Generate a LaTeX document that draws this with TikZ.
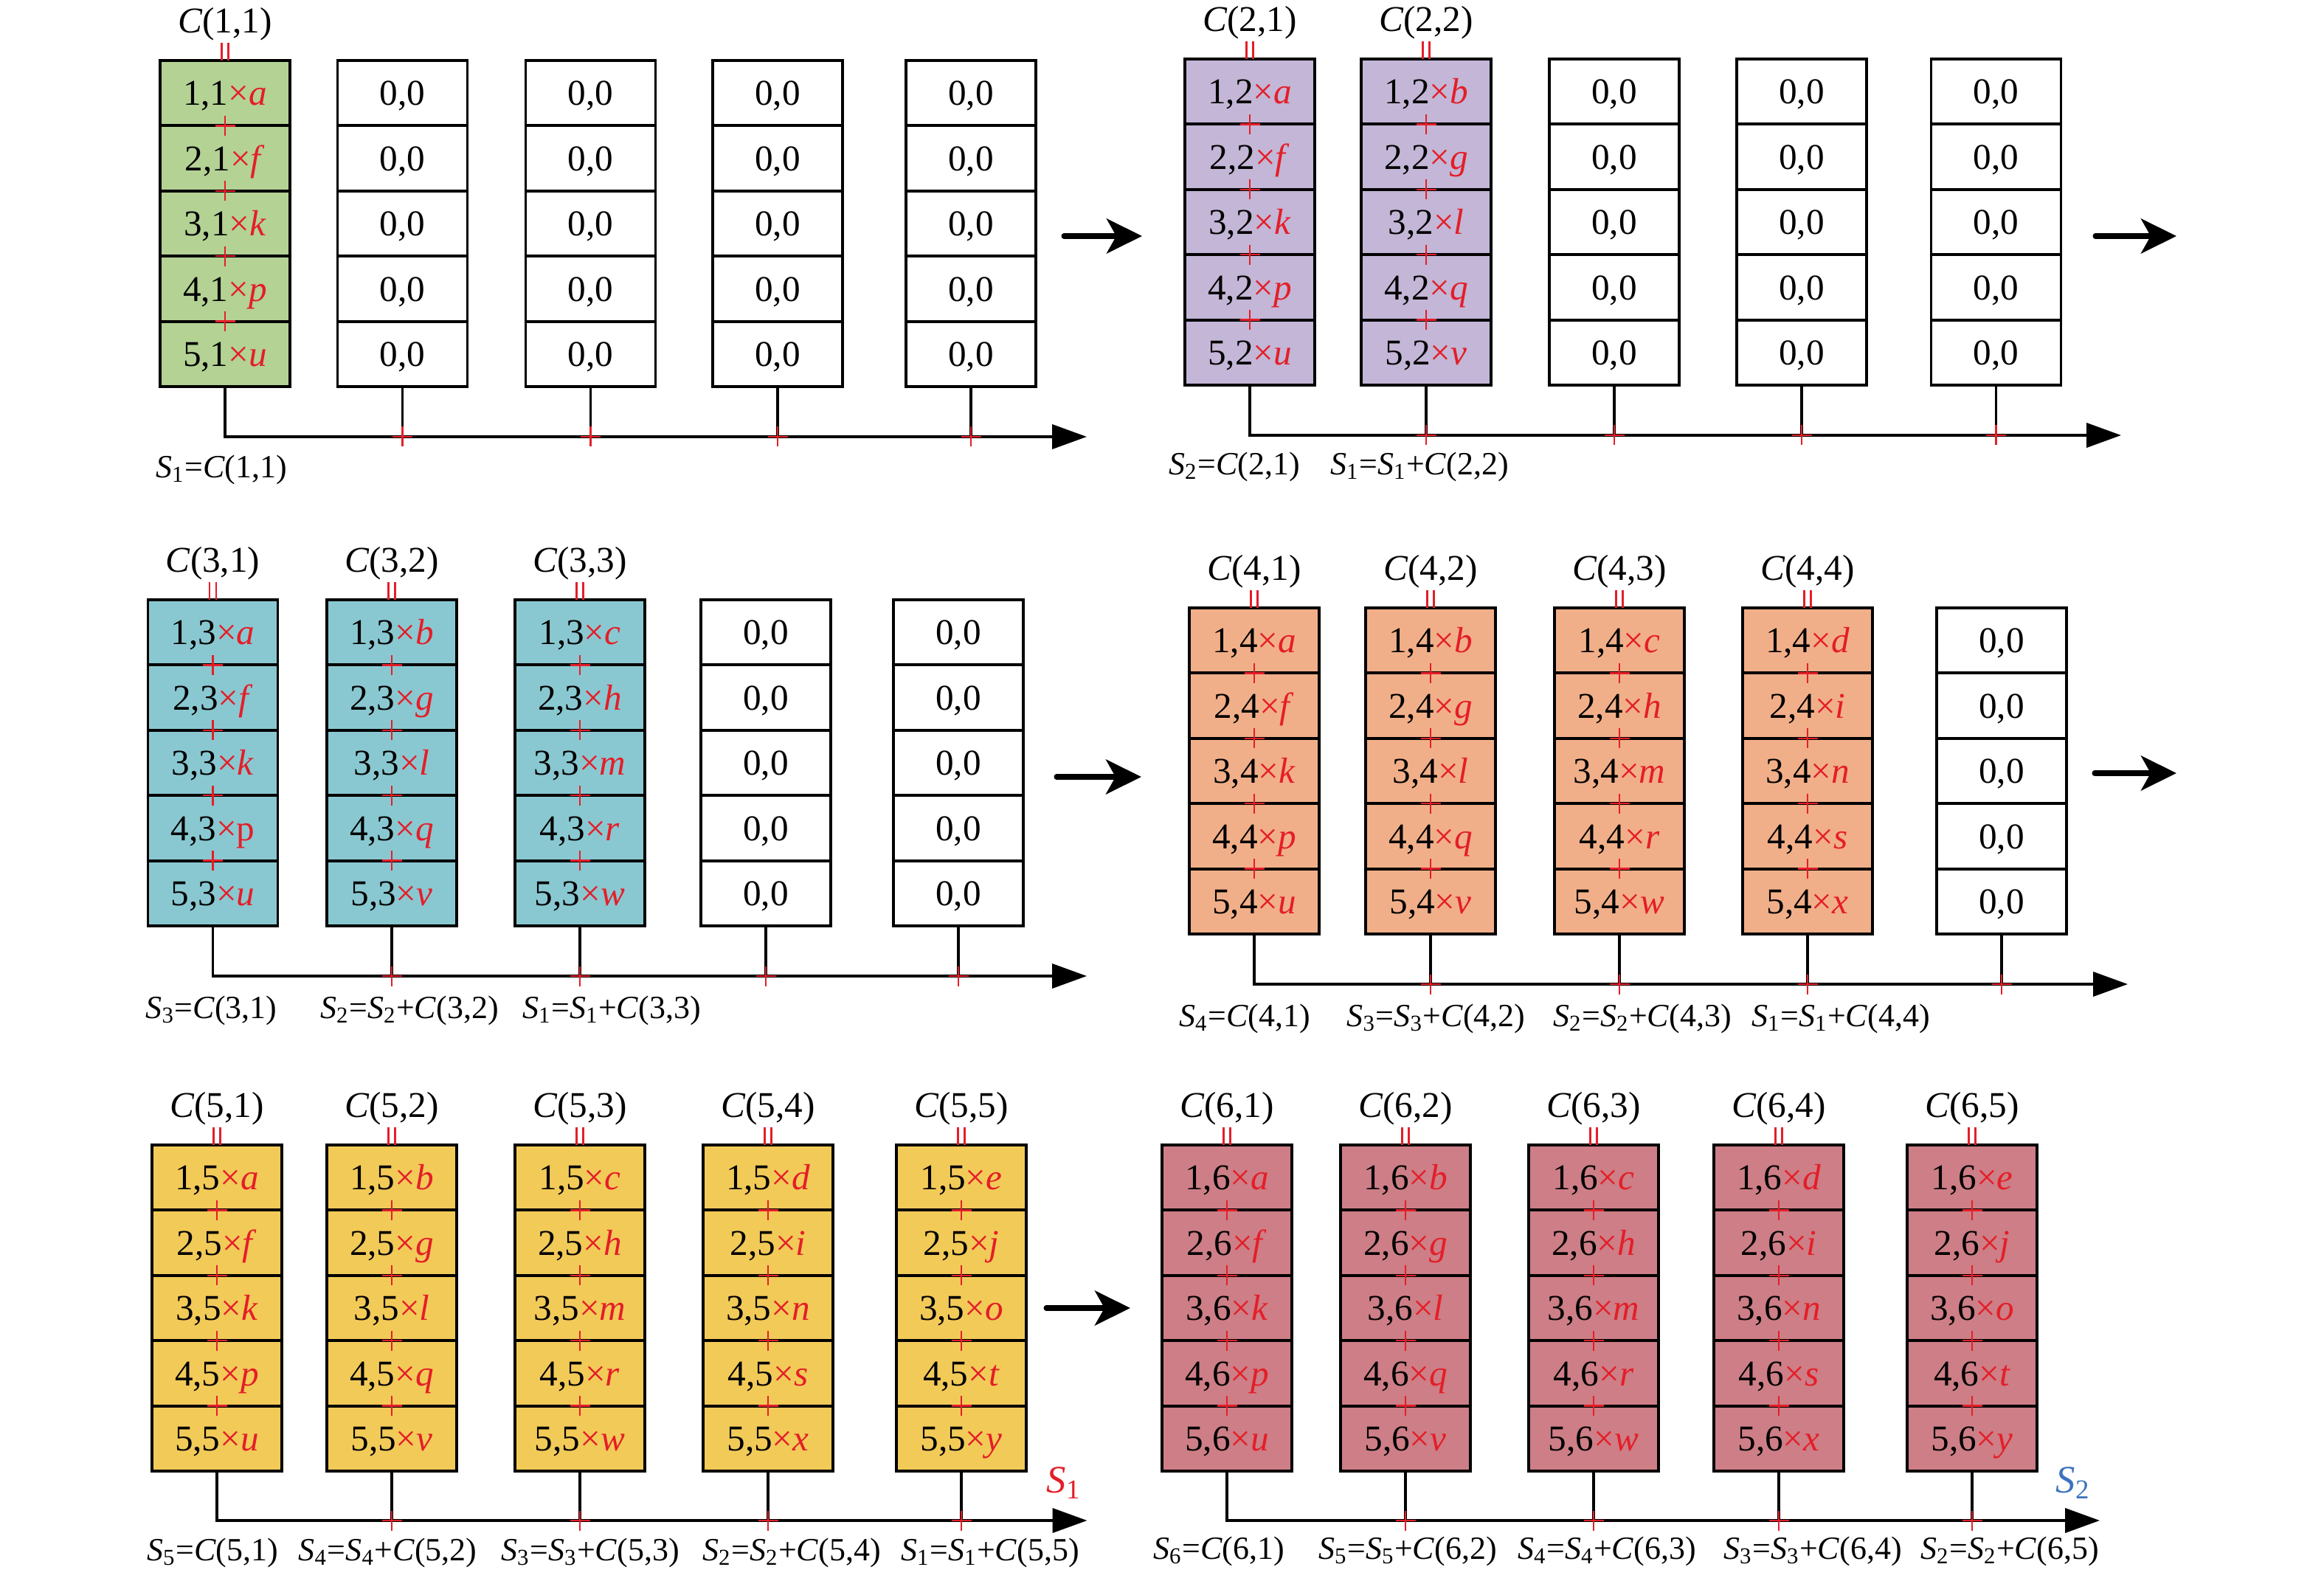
\documentclass[tikz,border=0pt]{standalone}
\usepackage{fontspec}
\setmainfont{Liberation Serif}
\usetikzlibrary{arrows.meta,positioning}

\definecolor{fill1}{RGB}{179,210,148}
\definecolor{fill2}{RGB}{195,182,214}
\definecolor{fill3}{RGB}{138,200,209}
\definecolor{fill4}{RGB}{241,175,137}
\definecolor{fill5}{RGB}{242,202,88}
\definecolor{fill6}{RGB}{205,126,134}
\definecolor{tred}{RGB}{228,30,40}
\definecolor{tblue}{RGB}{60,115,190}

\tikzset{
  cellbox/.style={draw, line width=1.1pt, minimum width=1.76cm, minimum height=0.884cm,
    inner sep=0pt, outer sep=0pt, text height=9.5pt, text depth=0pt,
    font=\fontsize{14}{16}\selectfont},
  clab/.style={inner sep=0pt, font=\fontsize{14}{16}\selectfont},
  slab/.style={inner sep=0pt, font=\fontsize{12.5}{14}\selectfont},
  redline/.style={draw=tred, line width=0.7pt},
  dropline/.style={line width=0.9pt},
  axisline/.style={line width=1.1pt, -{Triangle[length=4.7mm,width=3.3mm]}},
  bigarrow/.style={line width=2pt, line cap=round, -{Stealth[length=4.8mm,width=4.7mm,inset=1.3mm]}},
  plusmark/.pic={\draw[redline] (-1.35mm,0) -- (1.35mm,0) (0,-1.35mm) -- (0,1.35mm);}
}

\newcommand{\lettr}[1]{\ifcase#1\or a\or b\or c\or d\or e\or f\or g\or h\or i\or j\or k\or l\or m\or n\or o\or p\or q\or r\or s\or t\or u\or v\or w\or x\or y\fi}

% cell text: panel, row, column
\newcommand{\multtext}[3]{%
  \pgfmathtruncatemacro\idx{(#2-1)*5+#3}%
  #2,#1\textcolor{tred}{×\ifnum\idx=16 \ifnum#1=3 p\else\textit{p}\fi\else\textit{\lettr{\idx}}\fi}}

\newcommand{\Sv}[1]{\textit{S}\textsubscript{#1}}
\newcommand{\sumlab}[2]{\pgfmathtruncatemacro\sidx{#1-#2+1}\Sv{\sidx}=\ifnum#2>1 \Sv{\sidx}+\fi\textit{C}(#1,#2)}

% coloured column: panel, column, x, top
\newcommand{\fullcol}[4]{%
  \node[cellbox, fill=fill#1, anchor=north] (p#1c#2r1) at (#3,-#4) {\multtext{#1}{1}{#2}};
  \foreach \rn [remember=\rn as \rq (initially 1)] in {2,...,5}
    \node[cellbox, fill=fill#1, below=0pt of p#1c#2r\rq] (p#1c#2r\rn) {\multtext{#1}{\rn}{#2}};
  \foreach \rn in {1,...,4}
    \pic at (p#1c#2r\rn.south) {plusmark};
  \draw[redline] ([xshift=-0.45mm]p#1c#2r1.north) -- ++(0,2.4mm)
                 ([xshift=0.45mm]p#1c#2r1.north) -- ++(0,2.4mm);
  \node[clab, above=2.6mm of p#1c#2r1] (p#1t#2) {\textit{C}(#1,#2)};
}

% empty column: panel, column, x, top
\newcommand{\zerocol}[4]{%
  \node[cellbox, anchor=north] (p#1c#2r1) at (#3,-#4) {0,0};
  \foreach \rn [remember=\rn as \rq (initially 1)] in {2,...,5}
    \node[cellbox, below=0pt of p#1c#2r\rq] (p#1c#2r\rn) {0,0};
}

% panel, top, axis y, arrow end x, sum label y, column x's, sum label x's
\newcommand{\panel}[7]{%
  \foreach \x [count=\cn] in {#6} {
    \ifnum\cn>#1 \zerocol{#1}{\cn}{\x}{#2}\else\fullcol{#1}{\cn}{\x}{#2}\fi
  }
  \coordinate (p#1end) at (#4,-#3);
  \draw[axisline] (p#1c1r5.south) |- (p#1end);
  \foreach \cn in {2,...,5} {
    \draw[dropline] (p#1c\cn r5.south) -- (p#1c\cn r5.south |- p#1end);
    \pic at (p#1c\cn r5.south |- p#1end) {plusmark};
  }
  \foreach \x [count=\cn] in {#7}
    \node[slab] (p#1s\cn) at (\x,-#5) {\sumlab{#1}{\cn}};
}

\begin{document}
\begin{tikzpicture}

\fill[white] (0,0) rectangle (31.5,-21.43);
\useasboundingbox (0,0) rectangle (31.5,-21.43);

% first row
\panel{1}{0.82}{5.92}{14.73}{6.37}{3.05,5.455,8.005,10.54,13.16}{3.00}
\panel{2}{0.80}{5.90}{28.75}{6.33}{16.94,19.33,21.88,24.42,27.055}{16.73,19.24}

% second row
\panel{3}{8.13}{13.23}{14.73}{13.70}{2.885,5.31,7.86,10.38,12.99}{2.865,5.55,8.29}
\panel{4}{8.24}{13.34}{28.84}{13.81}{17.00,19.39,21.95,24.50,27.13}{16.87,19.465,22.26,24.95}

% third row
\panel{5}{15.52}{20.61}{14.735}{21.045}{2.94,5.31,7.86,10.41,13.03}{2.88,5.255,8.00,10.73,13.42}
\panel{6}{15.52}{20.61}{28.46}{21.03}{16.63,19.05,21.60,24.11,26.73}{16.52,19.08,21.78,24.57,27.24}

% results
\node[font=\fontsize{15}{17}\selectfont, text=tred] (res1) at (14.42,-20.10) {\Sv{1}};
\node[font=\fontsize{15}{17}\selectfont, text=tblue] (res2) at (28.10,-20.10) {\Sv{2}};

% steps
\foreach \an/\xa/\xb/\y in {1/14.42/15.48/3.20, 2/28.40/29.50/3.20, 3/14.32/15.47/10.53,
                            4/28.39/29.50/10.48, 5/14.18/15.32/17.73} {
  \coordinate (go\an a) at (\xa,-\y);
  \coordinate (go\an b) at (\xb,-\y);
  \draw[bigarrow] (go\an a) -- (go\an b);
}

\end{tikzpicture}
\end{document}
